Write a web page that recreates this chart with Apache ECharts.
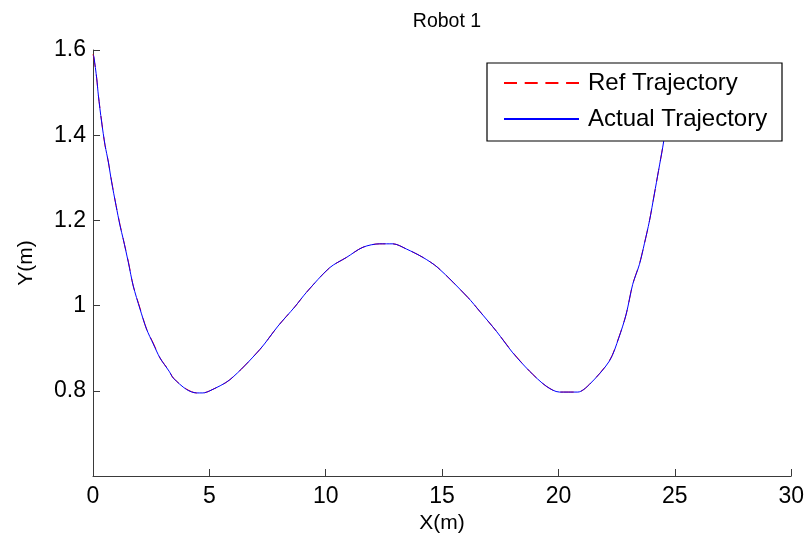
<!DOCTYPE html>
<html>
<head>
<meta charset="utf-8">
<script src="https://cdn.jsdelivr.net/npm/echarts@6/dist/echarts.min.js"></script>
<style>html,body{margin:0;padding:0;background:#fff}#c{width:807px;height:543px}</style>
</head>
<body>
<div id="c"></div>
<script>
var titleText = 'Robot 1';
var xName = 'X(m)';
var yName = 'Y(m)';
var seriesNames = ['Ref Trajectory', 'Actual Trajectory'];

var actualX = [0.02,0.04,0.16,0.23,0.37,0.52,0.66,0.80,0.99,1.16,1.30,1.52,1.73,2.02,2.30,2.59,2.88,3.27,3.45,4.02,4.45,4.72,5.02,5.88,7.17,7.95,8.67,9.17,10.17,10.89,11.60,12.32,12.89,13.46,14.18,14.82,16.11,16.61,17.33,18.04,18.76,19.47,20.04,20.83,21.33,22.19,22.59,22.91,23.19,23.48,23.69,23.91,24.12,24.30,24.48,24.63,24.80];
var actualY = [1.588,1.584,1.533,1.494,1.431,1.376,1.337,1.290,1.235,1.188,1.156,1.101,1.046,0.992,0.945,0.910,0.877,0.846,0.830,0.803,0.795,0.795,0.800,0.826,0.897,0.952,0.997,1.031,1.089,1.113,1.137,1.145,1.145,1.133,1.113,1.089,1.019,0.987,0.940,0.889,0.846,0.811,0.797,0.797,0.815,0.870,0.924,0.980,1.050,1.097,1.145,1.199,1.262,1.317,1.372,1.423,1.482];
var refX = [0.00,0.04,0.15,0.23,0.37,0.51,0.66,0.80,0.99,1.16,1.30,1.52,1.73,2.02,2.30,2.59,2.88,3.27,3.45,4.02,4.45,4.72,5.02,5.88,7.17,7.95,8.67,9.17,10.17,10.89,11.60,12.32,12.89,13.46,14.18,14.82,16.11,16.61,17.33,18.04,18.76,19.47,20.04,20.83,21.33,22.19,22.59,22.91,23.19,23.48,23.69,23.91,24.12,24.30,24.48,24.63,24.80];
var refY = [1.590,1.580,1.538,1.494,1.433,1.378,1.337,1.292,1.235,1.190,1.156,1.103,1.046,0.994,0.945,0.912,0.877,0.847,0.830,0.804,0.795,0.795,0.800,0.826,0.897,0.952,0.997,1.031,1.089,1.113,1.137,1.145,1.145,1.133,1.113,1.089,1.019,0.987,0.940,0.890,0.846,0.811,0.797,0.797,0.815,0.871,0.925,0.980,1.050,1.098,1.145,1.199,1.262,1.317,1.372,1.423,1.482];

var xMin = 0, xMax = 30, xStep = 5;
var yMin = 0.6, yMax = 1.6, yStep = 0.2;

function pairs(xs, ys) { return xs.map(function (x, i) { return [x, ys[i]]; }); }

var font = 'Liberation Sans, Arial, Helvetica, sans-serif';
var axisColor = '#3a3a3a';
var chart = echarts.init(document.getElementById('c'), null, {renderer: 'canvas'});
chart.setOption({
  backgroundColor: '#fff',
  animation: false,
  title: {
    text: titleText, left: 442, top: 7, textAlign: 'center',
    textStyle: {fontFamily: font, fontSize: 19.5, fontWeight: 'normal', color: '#000'}
  },
  grid: {left: 93, right: 15, top: 50, bottom: 67, containLabel: false},
  legend: {
    orient: 'vertical', left: 487, top: 63,
    backgroundColor: '#fff', borderColor: '#000', borderWidth: 1.2, borderRadius: 0,
    padding: [8, 14, 10, 16],
    itemWidth: 75, itemHeight: 24, itemGap: 12,
    z: 10,
    itemStyle: {opacity: 0},
    textStyle: {fontFamily: font, fontSize: 24, lineHeight: 24, color: '#000', padding: [0, 0, 0, 4], width: 180},
    data: seriesNames
  },
  xAxis: {
    type: 'value', min: xMin, max: xMax, interval: xStep,
    name: xName, nameLocation: 'middle', nameGap: 33,
    nameTextStyle: {fontFamily: font, fontSize: 21, color: '#000'},
    axisLine: {onZero: false, lineStyle: {color: axisColor, width: 1}},
    axisTick: {inside: true, length: 7, lineStyle: {color: axisColor}},
    axisLabel: {fontFamily: font, fontSize: 23, color: '#000', margin: 9},
    splitLine: {show: false}
  },
  yAxis: {
    type: 'value', min: yMin, max: yMax, interval: yStep,
    name: yName, nameLocation: 'middle', nameGap: 56,
    nameTextStyle: {fontFamily: font, fontSize: 21, color: '#000'},
    axisLine: {show: true, onZero: false, lineStyle: {color: axisColor, width: 1}},
    axisTick: {show: true, inside: true, length: 7, lineStyle: {color: axisColor}},
    axisLabel: {
      fontFamily: font, fontSize: 23, color: '#000', margin: 7,
      formatter: function (v) {
        if (Math.abs(v - yMin) < 1e-9) return '';
        return (Math.round(v * 10) / 10).toString();
      }
    },
    splitLine: {show: false}
  },
  series: [
    {
      name: seriesNames[0], type: 'line', data: pairs(refX, refY),
      symbol: 'none', smooth: 0.3, z: 2,
      lineStyle: {color: '#ff0000', width: 1, type: [13, 7.7]},
      itemStyle: {color: '#ff0000'}
    },
    {
      name: seriesNames[1], type: 'line', data: pairs(actualX, actualY),
      symbol: 'none', smooth: 0.3, z: 3,
      lineStyle: {color: '#0000ff', width: 1, type: 'solid'},
      itemStyle: {color: '#0000ff'}
    }
  ]
});
</script>
</body>
</html>
